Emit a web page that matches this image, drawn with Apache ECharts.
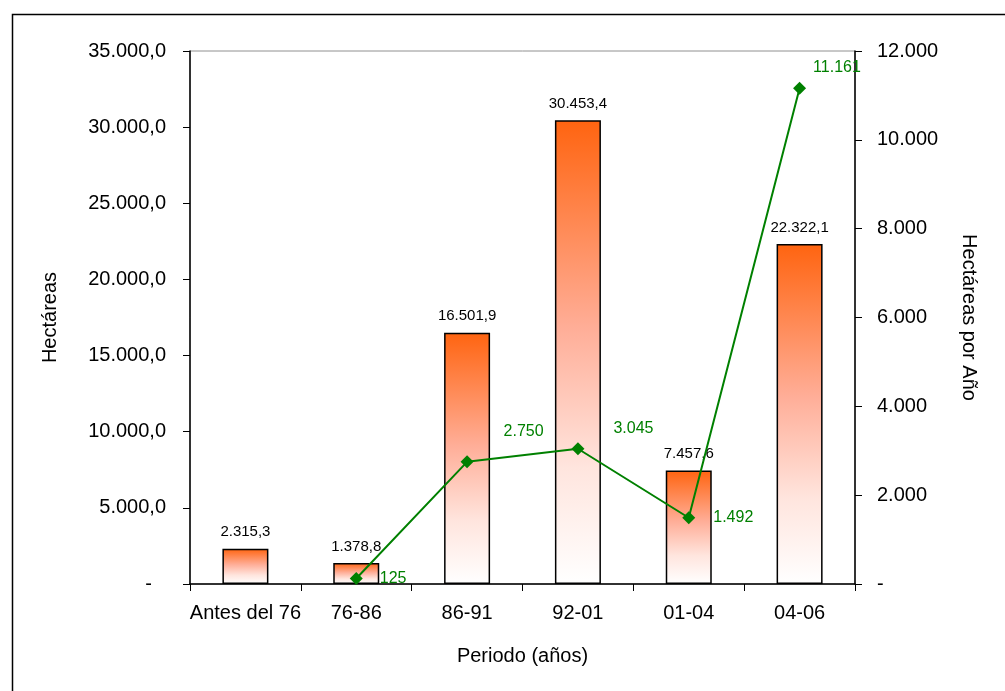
<!DOCTYPE html>
<html>
<head>
<meta charset="utf-8">
<script src="https://cdn.jsdelivr.net/npm/echarts@6/dist/echarts.min.js"></script>
<style>
html,body{margin:0;padding:0;background:#fff;}
#chart{width:1005px;height:691px;}
</style>
</head>
<body>
<div id="chart"></div>
<script>
var categories = ['Antes del 76', '76-86', '86-91', '92-01', '01-04', '04-06'];
var hectareas = [2315.3, 1378.8, 16501.9, 30453.4, 7457.6, 22322.1];
var hectareasPorAno = [null, 125, 2750, 3045, 1492, 11161];

var FONT = '"Liberation Sans", Arial, sans-serif';

function fmtThousands(intStr) {
  return intStr.replace(/\B(?=(\d{3})+(?!\d))/g, '.');
}
function fmt1(v) {
  var s = Math.abs(v).toFixed(1).split('.');
  return fmtThousands(s[0]) + ',' + s[1];
}
function fmt0(v) {
  return fmtThousands(String(Math.round(v)));
}

// label placement per point (style only)
var lineLabelStyle = [
  null,
  { distance: 17, offset: [0, 0] },
  { distance: 30, offset: [0, -30] },
  { distance: 29, offset: [0, -20] },
  { distance: 18, offset: [0, 0] },
  { distance: 7, offset: [0, -21] }
];
var lineData = hectareasPorAno.map(function (v, i) {
  if (v === null) return null;
  var st = lineLabelStyle[i];
  return { value: v, label: { distance: st.distance, offset: st.offset } };
});

var chart = echarts.init(document.getElementById('chart'));
chart.setOption({
  animation: false,
  backgroundColor: '#ffffff',
  textStyle: { fontFamily: FONT },
  graphic: [{
    type: 'rect',
    left: 10, top: 12,
    shape: { x: 0, y: 0, width: 1200, height: 900 },
    style: { fill: 'none', stroke: '#000', lineWidth: 1.5 },
    silent: true
  }],
  grid: {
    left: 190, right: 150, top: 51, bottom: 107,
    show: true, borderColor: '#909090', borderWidth: 1,
    backgroundColor: 'transparent'
  },
  xAxis: {
    type: 'category',
    data: categories,
    name: 'Periodo (años)',
    nameLocation: 'middle',
    nameGap: 62,
    nameTextStyle: { fontSize: 20, color: '#000', fontFamily: FONT },
    axisLine: { lineStyle: { color: '#000', width: 1.5 } },
    axisTick: { show: true, interval: 0, length: 7, lineStyle: { color: '#000' }, alignWithLabel: false },
    axisLabel: { interval: 0, fontSize: 20, color: '#000', margin: 19, fontFamily: FONT }
  },
  yAxis: [{
    type: 'value',
    min: 0, max: 35000, interval: 5000,
    name: 'Hectáreas',
    nameLocation: 'middle',
    nameGap: 130,
    nameRotate: 90,
    nameTextStyle: { fontSize: 20, color: '#000', fontFamily: FONT },
    splitLine: { show: false },
    axisLine: { show: true, lineStyle: { color: '#000', width: 1.5 } },
    axisTick: { show: true, length: 7, lineStyle: { color: '#000' } },
    axisLabel: {
      fontSize: 20, color: '#000', margin: 24, fontFamily: FONT,
      formatter: function (v) { return v === 0 ? '{z|-}' : fmt1(v); },
      rich: { z: { fontSize: 20, color: '#000', padding: [0, 14, 0, 0], fontFamily: FONT } }
    }
  }, {
    type: 'value',
    min: 0, max: 12000, interval: 2000,
    name: 'Hectáreas por Año',
    nameLocation: 'middle',
    nameGap: 104,
    nameRotate: -90,
    nameTextStyle: { fontSize: 20, color: '#000', fontFamily: FONT },
    splitLine: { show: false },
    axisLine: { show: true, lineStyle: { color: '#000', width: 1.5 } },
    axisTick: { show: true, length: 7, lineStyle: { color: '#000' } },
    axisLabel: {
      fontSize: 20, color: '#000', margin: 22, fontFamily: FONT,
      formatter: function (v) { return v === 0 ? '-' : fmt0(v); }
    }
  }],
  series: [{
    type: 'bar',
    data: hectareas,
    yAxisIndex: 0,
    barWidth: 46,
    itemStyle: {
      borderColor: '#000',
      borderWidth: 1.5,
      color: new echarts.graphic.LinearGradient(0, 0, 0, 1, [
        { offset: 0, color: '#FF6410' },
        { offset: 0.45, color: '#FFAE98' },
        { offset: 0.75, color: '#FFE5DE' },
        { offset: 1, color: '#FFFFFF' }
      ])
    },
    label: {
      show: true, position: 'top', distance: 9,
      fontSize: 15, color: '#000', fontFamily: FONT,
      formatter: function (p) { return fmt1(p.value); }
    },
    z: 2
  }, {
    type: 'line',
    data: lineData,
    yAxisIndex: 1,
    symbol: 'diamond',
    symbolSize: 13,
    lineStyle: { color: '#008000', width: 2 },
    itemStyle: { color: '#008000' },
    label: {
      show: true, position: 'right',
      fontSize: 16, color: '#008000', fontFamily: FONT,
      formatter: function (p) { return fmt0(p.value); }
    },
    z: 3
  }]
});
</script>
</body>
</html>
